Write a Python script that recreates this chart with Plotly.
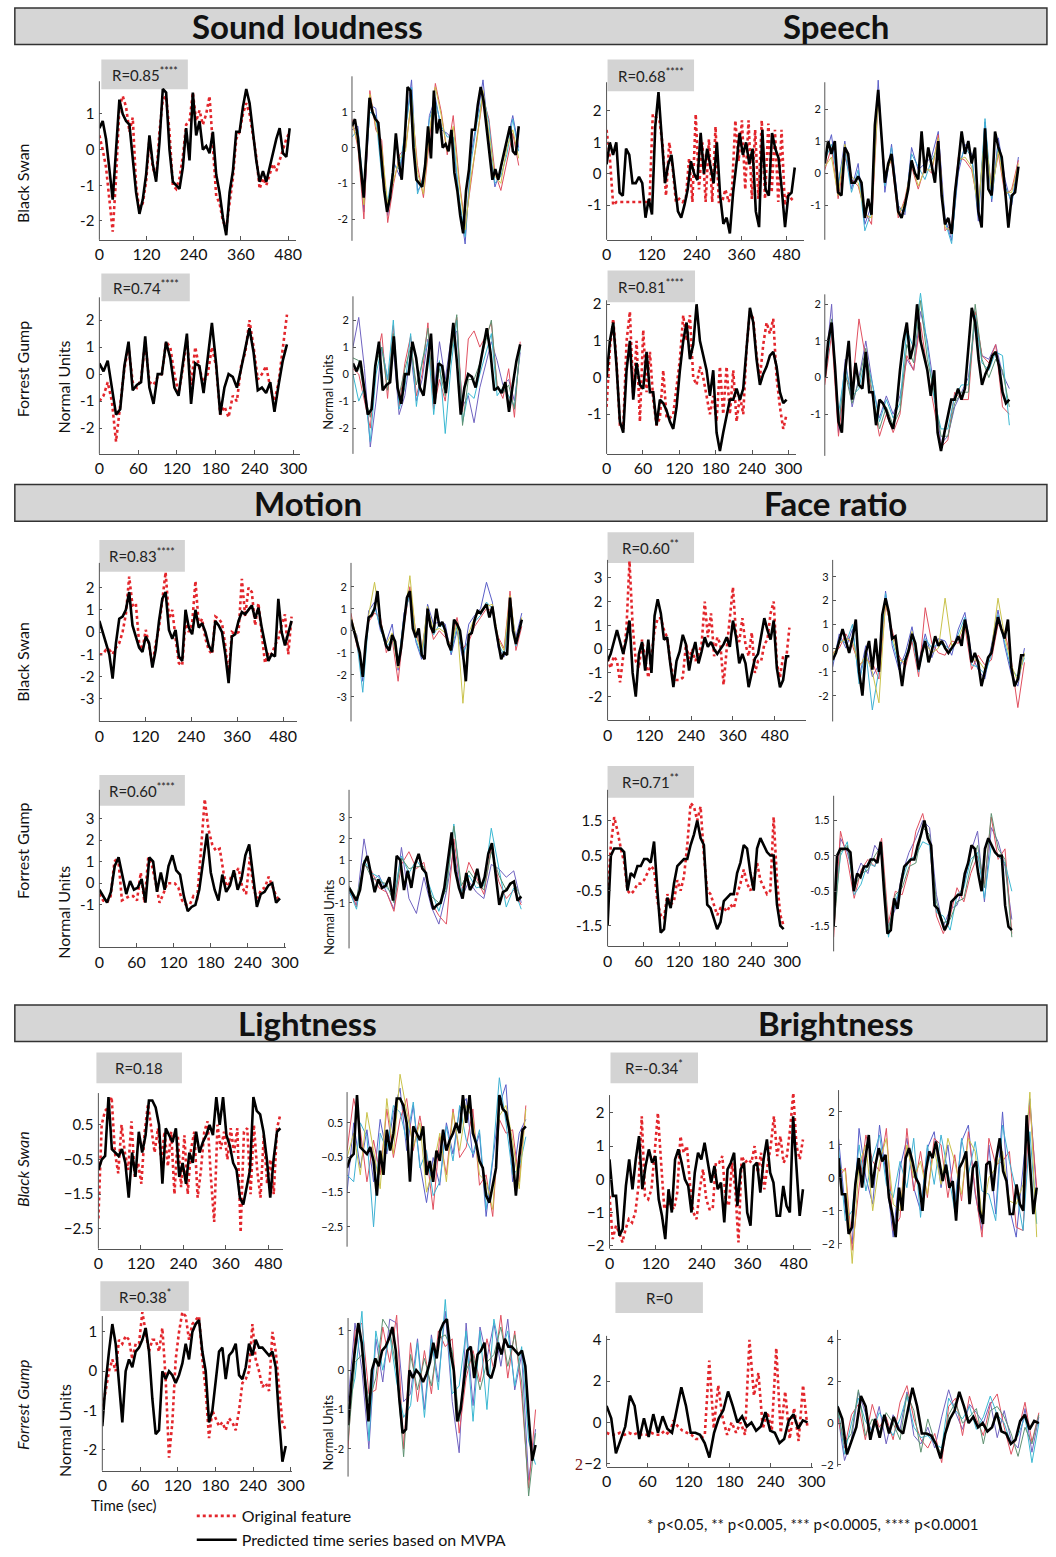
import numpy as np
import plotly.graph_objects as go

W, H = 1056, 1557

# ---------------- DATA ----------------
# durations (s) of each series
dur_bs = {"sound": 484, "speech": 502, "motion": 502, "face": 522, "light": 514, "bright": 504}
dur_fg = {"sound": 290, "speech": 297, "motion": 292, "face": 294, "light": 292, "bright": 294}

r_labels = {
    "sound_bs": "R=0.85<sup>****</sup>", "sound_fg": "R=0.74<sup>****</sup>",
    "speech_bs": "R=0.68<sup>****</sup>", "speech_fg": "R=0.81<sup>****</sup>",
    "motion_bs": "R=0.83<sup>****</sup>", "motion_fg": "R=0.60<sup>****</sup>",
    "face_bs": "R=0.60<sup>**</sup>", "face_fg": "R=0.71<sup>**</sup>",
    "light_bs": "R=0.18", "light_fg": "R=0.38<sup>*</sup>",
    "bright_bs": "R=-0.34<sup>*</sup>", "bright_fg": "R=0",
}

sound_bs_pred = [0.6,0.8,0.3,-0.6,-1.4,0.0,1.4,1.0,0.8,0.7,-0.3,-1.2,-1.8,-1.4,-0.7,0.4,-0.4,-0.9,0.2,1.7,1.6,0.0,-0.9,-1.0,-1.1,-0.5,0.6,-0.3,1.6,0.4,0.8,0.0,0.1,-0.1,0.5,-0.7,-1.2,-1.9,-2.4,-1.2,-0.6,0.5,0.5,1.2,1.7,1.3,0.5,-0.3,-0.9,-0.6,-0.9,-0.5,-0.1,0.3,0.6,-0.1,-0.2,0.6]
sound_bs_orig = [0.4,0.0,-0.5,-1.5,-2.3,-0.8,1.2,1.5,1.2,0.5,0.9,-1.0,-1.7,-1.5,-0.9,0.3,-0.5,-0.8,0.5,1.4,1.5,0.5,-1.0,-1.1,-0.8,-0.2,0.7,0.8,1.6,0.8,1.1,0.7,1.0,1.5,0.0,-1.3,-1.5,-2.0,-2.2,-1.5,-0.8,0.3,0.5,1.0,1.3,1.0,0.4,-0.2,-1.1,-0.8,-1.0,-0.7,-0.4,-0.6,-0.3,0.0,0.3,0.5]
sound_bs_subj = [
    [0.5,0.6,-1.8,1.2,1.1,-0.6,-1.9,-0.4,-0.8,0.6,1.9,-1.2,-1.0,0.9,1.4,0.5,0.4,0.2,-1.5,-2.7,-0.2,0.8,1.9,0.2,-1.1,-0.6,0.2,0.9,0.0],
    [0.8,0.0,-2.0,1.6,0.5,0.2,-2.1,-1.0,-0.2,0.0,1.3,-0.5,-1.4,0.3,1.8,1.0,-0.2,0.9,-0.9,-2.2,-0.9,0.3,1.4,0.8,-0.7,-1.2,-0.4,0.4,-0.5],
    [0.3,0.5,-1.2,1.0,0.9,-0.8,-1.5,-0.5,-0.6,0.5,1.7,-1.3,-0.8,0.8,1.3,0.6,0.3,0.3,-1.4,-2.5,-0.4,0.7,1.5,0.7,-1.0,-0.8,-0.2,0.8,-0.1],
    [0.7,0.1,-1.6,1.5,0.6,0.0,-1.6,-0.9,-0.3,-0.1,1.4,-0.7,-1.3,0.4,1.7,0.9,-0.1,0.6,-1.0,-2.3,-0.8,0.2,1.6,0.4,-0.8,-1.0,0.0,0.5,-0.3],
]

sound_fg_pred = [0.4,0.1,0.5,-0.6,-1.5,-1.3,0.3,1.2,-0.6,-0.4,-0.3,1.4,-0.5,-1.1,0.0,0.0,1.2,0.6,-0.5,-0.8,0.3,1.5,-1.1,0.4,0.3,-0.7,0.6,1.9,0.4,-1.5,-0.5,0.0,-0.1,-0.5,0.2,1.0,1.7,0.8,-0.6,-0.5,-0.7,-0.3,-1.4,-0.4,0.5,1.1]
sound_fg_orig = [-1.0,-0.8,-0.3,-1.0,-2.5,-1.2,0.2,1.0,-0.3,-0.5,-0.2,1.2,-0.3,-0.4,-0.1,0.0,1.2,1.0,0.0,-0.7,0.2,1.3,-0.4,1.0,0.2,-0.3,0.0,1.0,0.3,-1.5,-1.2,-1.6,-0.8,-1.0,0.3,0.8,2.0,1.0,-0.2,0.0,0.3,-0.5,-1.0,-0.3,1.0,2.2]
sound_fg_subj = [
    [1.0,2.1,0.2,-2.7,-1.0,1.0,-0.2,1.0,-1.5,-0.8,0.8,-1.0,-0.2,1.3,-0.8,1.2,-0.2,1.3,1.6,-1.2,-0.8,-1.8,-0.5,0.3,1.2,0.5,-0.4,-0.2,-1.0,0.8],
    [0.2,0.0,-1.0,-2.0,0.5,1.5,-0.9,1.8,-1.2,0.4,1.4,-0.8,0.0,1.9,-1.3,-0.2,-1.0,1.0,2.1,-1.4,1.3,1.6,1.0,1.4,1.9,-0.4,-0.9,0.2,-1.6,1.2],
    [0.0,-1.0,-0.5,-2.5,0.0,1.0,-0.2,2.0,-1.3,-0.5,1.5,-1.2,0.5,1.2,-1.5,0.5,-2.2,0.3,2.0,-1.8,-0.7,-0.9,0.0,0.8,1.5,-0.8,-0.5,-0.8,-1.2,1.0],
    [0.6,0.5,-0.8,-1.6,0.4,1.0,-0.6,1.5,-0.8,0.2,1.0,-0.4,0.4,1.7,-0.9,0.2,-0.8,0.8,2.2,-1.9,-0.2,-0.2,0.4,1.2,2.0,-0.5,-0.7,-0.4,-1.3,1.0],
]

speech_bs_pred = [0.3,1.0,0.6,1.0,-0.6,-0.7,0.8,0.6,-0.3,-0.3,-0.1,-0.3,-1.4,-0.8,-1.3,1.5,2.6,1.2,-0.3,0.3,0.6,-0.3,-1.2,-1.4,-1.0,-0.5,0.4,0.0,-0.2,1.3,0.0,0.8,0.2,-0.3,1.0,-0.7,-1.6,-1.4,-1.9,-0.6,0.3,1.3,0.6,1.0,0.3,0.8,-1.2,-1.7,1.4,-0.5,-0.7,1.3,0.8,0.5,-0.5,-1.7,-0.7,-0.6,0.2]
speech_bs_orig = [1.4,0.5,-1.0,-0.9,-0.9,-0.9,-0.9,-0.9,-0.9,-0.9,-0.9,-0.9,-0.9,-0.9,1.9,1.8,1.7,0.9,-0.7,1.0,0.2,-0.9,-0.8,-0.9,-0.8,0.5,-0.9,1.9,-0.5,1.0,-0.9,1.1,-0.9,1.5,-0.9,-0.9,-0.5,-0.9,-0.5,1.7,0.4,1.7,-0.5,1.7,-0.8,1.4,-0.8,1.7,-0.8,1.6,-0.6,1.4,-0.9,1.4,-1.0,-0.6,-0.8,-0.9]
speech_bs_subj = [
    [0.5,1.2,-0.4,1.0,-0.5,0.3,-1.6,-1.0,2.9,-0.6,0.9,-1.0,-1.3,0.8,0.1,0.3,0.5,1.3,-1.4,-2.1,0.0,0.9,0.6,-1.5,1.6,-0.9,1.1,-0.2,-1.0,0.5],
    [0.1,0.8,-0.8,0.5,-0.2,-0.4,-1.2,-1.6,2.3,0.0,0.4,-1.4,-0.8,0.2,-0.5,0.2,0.0,1.2,-1.8,-1.6,0.5,0.4,0.1,-1.0,1.2,-0.5,0.6,-0.7,-0.5,0.4],
    [0.4,0.9,-0.3,0.7,-0.6,0.1,-1.8,-1.2,2.5,-0.4,0.8,-1.1,-1.2,0.6,0.2,-0.2,0.4,0.8,-1.5,-2.2,0.2,0.8,0.5,-1.3,1.7,-0.8,0.9,-0.4,-0.9,0.1],
    [0.2,0.5,-0.7,0.9,-0.1,-0.3,-1.3,-1.4,2.4,-0.2,0.5,-1.3,-0.9,0.3,-0.4,0.1,0.1,1.1,-1.7,-1.8,0.4,0.5,0.2,-1.1,1.3,-0.6,0.7,-0.6,-0.6,0.3],
]

speech_fg_pred = [0.0,1.0,1.5,0.3,-1.2,-1.5,0.2,1.0,-0.6,0.4,-0.2,-0.3,0.7,-0.4,-0.4,-1.3,-0.6,-0.7,-0.9,-1.2,-1.4,-0.8,0.2,1.0,1.5,0.5,0.9,2.0,1.0,0.6,0.2,-0.5,0.2,-1.5,-2.0,-1.5,-1.0,-0.6,-0.6,-0.3,-0.6,-0.3,0.8,1.9,1.5,0.5,-0.2,0.1,0.3,0.6,0.7,0.3,-0.4,-0.7,-0.6]
speech_fg_orig = [-0.8,0.8,1.6,0.4,-1.3,-1.4,1.0,1.8,-0.5,1.0,-1.2,1.3,-0.4,0.7,-0.6,-1.3,-1.1,0.2,-1.1,-1.1,-1.0,-0.3,0.5,1.7,1.0,1.7,0.0,-0.2,0.3,0.0,-0.5,-1.0,-0.5,-1.2,0.3,-1.0,0.3,-1.0,0.2,-1.2,-0.5,-1.0,0.8,1.8,1.6,0.6,0.0,0.9,1.5,1.2,1.6,0.0,-0.8,-1.4,-1.0]
speech_fg_subj = [
    [0.1,2.0,-1.5,0.5,-0.8,0.0,1.0,-0.2,-1.1,-0.5,-1.0,-0.5,0.5,0.2,1.8,1.0,-0.3,-1.8,-1.6,-0.8,-0.4,0.0,1.6,0.6,0.5,0.9,0.1,-0.3],
    [-0.2,1.2,-1.6,0.0,-0.3,1.6,0.5,-0.6,-1.6,-1.0,-1.5,-1.0,0.6,0.2,1.5,0.2,-0.8,-1.9,-1.7,-0.4,-0.6,-0.6,1.8,0.6,0.4,0.9,-0.8,-1.0],
    [0.0,1.4,-1.0,0.3,-0.5,-0.3,0.6,-0.2,-1.2,-0.6,-1.1,-0.7,1.3,0.8,2.3,0.8,-0.6,-1.4,-1.4,-0.5,-0.2,-0.2,1.7,0.4,0.2,0.7,0.6,-1.3],
    [0.2,1.6,-1.3,0.1,-0.7,-0.1,0.8,-0.5,-1.4,-0.8,-1.3,-0.9,0.9,0.4,2.1,0.5,-0.4,-1.6,-1.6,-0.7,-0.4,-0.4,2.0,0.5,0.0,0.5,0.2,-0.8],
]

motion_bs_pred = [0.5,0.0,-0.4,-1.0,-2.1,-0.5,0.6,0.7,1.0,1.8,0.3,-0.2,-0.7,-0.9,-0.2,-0.5,-1.6,-0.8,0.5,1.5,1.8,0.1,-0.3,0.1,-1.1,-1.3,1.0,0.2,-0.1,1.0,0.2,0.4,0.0,-0.6,-0.9,0.5,0.3,0.0,-1.0,-2.3,-0.2,-0.1,0.5,0.9,0.8,1.0,1.2,0.6,1.1,0.2,-0.5,-1.3,-1.0,-1.1,1.5,0.0,-0.6,0.0,0.5]
motion_bs_orig = [-1.0,-1.0,-0.8,-0.8,-1.0,-0.7,-0.5,0.0,0.8,2.5,1.2,1.3,-0.5,-0.8,0.1,-0.6,-1.5,-0.5,0.2,1.5,2.7,0.6,1.0,-0.3,-1.4,-1.5,0.5,0.0,0.4,2.3,0.3,0.6,-0.3,-0.8,-1.0,0.7,0.6,0.4,-0.6,-2.0,0.0,-0.1,0.0,2.4,0.7,2.0,1.8,0.3,1.3,-0.1,-1.4,-0.9,-1.0,-0.6,-0.3,0.3,0.8,-1.0,0.7]
motion_bs_subj = [
    [0.3,-0.2,-2.3,0.9,1.3,0.0,-0.5,0.3,-1.8,0.8,1.6,-0.5,-1.3,1.2,0.3,0.4,0.3,-1.1,0.0,-1.3,0.3,0.7,1.0,2.2,1.3,-0.8,-1.2,1.2,-0.3,0.8],
    [0.8,-0.7,-1.8,0.4,0.8,0.6,-1.0,-0.4,-2.3,0.2,2.0,-0.1,-0.9,0.8,-0.4,0.0,-0.3,-0.6,0.6,-0.8,-0.5,0.2,0.6,1.0,0.9,-0.3,-0.8,1.8,-0.9,0.2],
    [0.4,-0.5,-2.8,0.5,1.1,0.2,-0.8,-0.3,-1.5,0.6,1.7,-0.4,-1.2,0.9,-0.2,0.3,0.1,-1.0,0.2,-1.1,-0.3,0.4,0.7,1.3,1.0,-0.6,-1.1,1.4,-0.7,0.4],
    [0.6,-0.3,-2.0,0.7,2.2,0.4,-0.6,-0.1,-1.7,0.4,2.5,-0.2,-1.0,1.1,0.0,0.1,-0.1,-0.8,0.4,-3.3,-0.1,0.6,0.9,1.1,1.2,-0.4,-0.9,1.6,-0.5,0.6],
]

motion_fg_pred = [-0.3,-0.6,-0.9,-0.4,0.8,1.2,0.3,-0.5,0.1,-0.3,-0.2,0.2,-0.9,1.2,1.0,-0.4,0.5,-0.3,0.8,1.3,0.6,0.4,-0.6,-1.3,-1.1,-1.0,-0.3,1.0,2.3,0.5,-0.3,-0.8,0.4,-0.4,-0.1,0.6,-0.3,0.2,1.3,1.8,0.4,-1.1,-0.5,-0.4,-0.1,0.0,-0.9,-0.7]
motion_fg_orig = [-0.5,-0.8,-0.9,-0.6,1.0,1.2,-0.8,-0.7,-0.6,-0.6,-0.8,0.5,-0.9,1.2,0.8,0.0,-0.9,-0.5,0.0,0.0,0.0,-0.2,-0.8,-1.0,-1.0,-0.6,-0.7,1.5,3.9,2.5,1.8,1.5,1.6,0.5,-0.3,0.3,0.4,0.7,-0.2,-0.5,1.2,-0.3,-0.7,-0.3,-0.2,0.3,-0.2,-0.6,-0.8]
motion_fg_subj = [
    [-0.5,-1.1,2.0,0.0,0.3,-0.5,-1.3,1.6,-0.8,-1.5,0.2,-1.2,-2.0,-0.5,1.5,-0.8,0.0,-0.5,-0.8,0.8,0.6,0.2,0.5,-1.0],
    [-0.2,-1.2,0.8,0.5,-0.3,-0.5,-1.4,0.8,1.4,0.6,0.9,-1.0,-1.6,-2.0,2.0,-0.5,0.9,0.2,-0.6,1.6,0.0,-0.8,-0.4,-1.1],
    [-0.4,-1.3,1.0,0.4,0.2,-0.3,-0.6,1.2,0.4,1.0,0.5,-0.5,-1.4,-0.2,2.7,-0.5,0.3,-0.3,-0.2,2.5,0.7,-1.2,-0.3,-1.3],
    [-0.2,-0.8,0.9,0.2,0.0,-0.1,-1.0,1.1,0.6,0.7,0.7,-0.7,-1.0,-0.4,2.6,-0.2,0.5,0.0,-0.4,1.4,0.3,-0.4,0.0,-0.8],
]

face_bs_pred = [-0.5,-0.2,0.3,0.8,0.3,-0.2,0.4,1.2,-1.0,-2.0,-0.2,0.3,-0.9,0.4,-1.0,1.4,2.1,1.5,0.4,0.5,-0.6,-1.6,-0.5,-0.1,0.6,0.2,-0.9,-0.2,0.3,-0.6,-0.1,0.5,0.1,0.3,0.0,-0.2,0.0,0.2,0.5,0.1,1.2,0.5,-0.6,-0.2,-0.6,-1.6,-1.0,-0.4,-0.2,0.5,1.3,0.8,0.4,1.2,-0.8,-1.6,-1.3,-0.3,-0.3]
face_bs_orig = [-0.4,-0.8,-0.3,-0.5,-1.4,-0.2,0.8,3.7,1.0,-0.5,-0.8,0.4,-0.5,-1.2,-0.3,0.8,1.3,1.3,0.8,0.5,-0.5,-1.2,-1.3,-1.3,-1.2,0.2,-0.4,0.0,-0.5,-0.2,0.2,2.0,0.5,1.5,-0.3,0.5,0.2,-1.5,0.0,1.2,2.6,0.6,0.3,1.3,0.2,-0.3,0.7,-1.0,-0.5,-0.5,0.2,0.4,1.5,2.0,-0.6,-1.2,-0.3,-0.4,0.9]
face_bs_subj = [
    [-0.8,0.6,0.0,0.8,-1.3,0.1,-1.2,-0.7,2.4,0.1,-0.9,-0.2,0.9,-0.6,0.6,-0.4,0.4,0.3,-0.3,0.8,1.5,-0.3,-0.9,-1.3,0.1,1.6,0.1,-1.1,-1.6,0.0],
    [-0.2,0.0,0.6,0.1,-0.7,-0.5,-0.6,-1.3,1.8,0.7,-0.3,-0.8,0.3,-1.2,1.7,0.2,-0.2,-0.3,0.3,0.2,0.9,-0.9,-0.3,-0.7,-0.5,1.0,0.7,-0.5,-2.5,-0.6],
    [-0.6,0.4,0.2,1.0,-1.5,-0.1,-2.6,-0.9,2.3,0.3,-0.7,-0.4,0.5,-1.0,0.4,0.0,0.2,0.1,-0.1,0.6,1.3,-0.7,-0.8,-1.1,-0.3,1.4,0.3,-0.9,-1.2,-0.4],
    [-0.3,0.2,0.4,0.3,-0.8,-0.3,-1.0,-2.3,2.0,0.5,-0.5,-0.6,0.7,-0.8,0.2,-0.2,0.0,2.1,0.1,0.4,1.1,-0.5,-0.5,-0.9,-0.1,2.1,0.5,-0.7,-1.4,-0.2],
]

face_fg_pred = [-1.5,0.5,0.7,0.7,0.7,0.6,-0.5,0.0,-0.1,0.2,0.2,0.4,0.4,0.3,0.9,-0.5,-1.7,-1.6,-0.7,-1.0,-0.3,0.2,0.3,0.4,0.4,0.8,1.1,1.5,1.0,0.8,-0.9,-1.0,-1.3,-1.6,-1.4,-0.8,-0.7,-0.6,-0.6,0.0,0.3,0.8,0.7,0.0,-0.5,0.7,1.0,0.8,0.6,0.5,0.5,-0.9,-1.5,-1.6]
face_fg_orig = [-0.7,0.8,1.6,1.2,0.7,0.3,-0.5,-0.6,-0.5,-0.3,-0.3,-0.2,0.0,0.2,0.1,-0.8,-1.2,-1.3,-0.6,-0.9,-0.8,-0.2,-0.5,-0.1,0.8,2.0,1.9,1.5,1.9,0.5,-0.5,-0.6,-0.9,-1.2,-1.0,-1.0,-1.1,-0.9,-1.0,-0.6,-0.3,0.1,-0.3,-0.5,-0.2,0.3,-0.2,-0.4,-0.6,-0.5,1.6,-0.2,-1.2,-1.5]
face_fg_subj = [
    [-1.2,1.0,0.6,-0.2,0.3,0.0,0.8,0.5,-1.5,-1.0,0.0,0.6,1.0,1.5,1.3,-0.6,-1.5,-1.0,-0.9,-0.3,0.6,1.2,-0.8,1.3,0.9,0.2,-1.3],
    [-1.8,1.2,0.4,-0.7,0.1,0.4,0.2,1.0,-1.4,-0.5,-0.6,0.1,1.2,1.7,0.8,-1.2,-1.7,-1.2,-0.4,-0.8,0.0,0.5,-0.3,1.6,0.4,0.7,-1.7],
    [-1.3,0.5,0.9,-0.6,-0.3,0.3,0.2,0.7,-1.8,-0.8,-0.2,0.4,0.5,0.9,0.8,-1.1,-1.2,-1.6,-0.6,-0.4,0.4,0.6,-0.7,0.8,0.5,0.3,-0.5],
    [-1.6,0.6,0.8,-0.4,0.0,0.1,0.5,0.8,-1.6,-0.6,-0.4,0.2,0.3,1.3,1.1,-0.8,-1.4,-1.3,-0.8,-0.7,0.2,0.8,-0.4,1.7,0.7,0.4,-1.8],
]

light_bs_pred = [-0.8,-0.5,-0.4,1.3,-0.2,-0.3,-0.4,-0.2,-0.6,-1.6,-0.3,-1.0,0.3,-0.3,0.2,1.2,1.2,1.0,0.5,-1.2,0.4,0.2,0.0,0.4,-1.0,-0.6,-1.2,-0.3,-0.6,0.3,-0.3,0.0,0.2,0.5,0.2,1.3,0.5,1.3,0.2,-0.1,-0.6,-0.8,-1.6,-1.8,-1.3,-0.8,1.3,0.9,0.8,0.3,-0.5,-1.6,-0.5,0.3,0.4]
light_bs_orig = [-2.2,0.5,0.9,1.0,1.3,-0.3,-0.9,0.5,-0.3,-0.8,0.6,-1.0,-0.6,-1.2,0.3,1.1,0.4,-0.3,0.4,-0.5,0.3,-0.7,0.3,-1.5,0.2,-1.3,0.2,-1.5,-0.2,0.3,-1.6,-0.8,0.3,0.6,-1.0,-2.3,0.5,-0.2,0.3,-0.5,0.4,-0.3,0.4,-2.6,0.3,0.4,-1.5,0.5,-0.8,-1.6,0.2,-1.2,-0.5,-1.5,0.4,0.8]
light_bs_subj = [
    [-1.5,0.5,-0.8,0.3,-1.2,0.6,-0.4,0.8,1.5,-0.3,1.0,-0.7,-1.8,-0.5,-1.3,0.5,-0.4,0.9,1.2,-0.5,0.2,-2.2,-0.6,1.0,1.6,-1.2,0.2,0.6],
    [-0.3,1.2,0.3,-1.2,0.0,-1.0,0.9,-0.5,0.6,1.2,-0.3,0.7,-0.4,-2.0,0.1,-1.0,0.9,-0.5,-0.2,0.9,-1.3,-1.0,-2.2,0.6,0.2,0.3,-1.2,1.0],
    [-1.0,-1.2,0.5,0.1,-2.5,0.2,-0.3,1.0,0.8,0.0,1.1,-0.8,-0.3,-1.6,-1.2,0.4,-0.6,1.0,0.0,-0.4,0.3,-2.0,-0.5,1.8,0.5,-1.0,-0.8,0.1],
    [-0.5,0.2,-1.0,0.8,-0.3,-1.4,1.2,-0.4,1.9,0.8,-0.2,0.5,-1.5,-0.8,0.2,-1.2,0.8,-0.3,1.0,0.6,-1.0,-1.2,-2.0,0.7,1.0,0.0,-1.4,0.9],
]

bright_bs_pred = [0.6,-0.5,-0.5,-1.7,-1.5,-0.2,0.6,-0.3,0.6,1.3,-0.3,0.4,0.9,0.5,0.7,-0.6,-1.1,-1.8,-0.3,-1.0,0.6,0.9,0.5,0.0,-0.2,-1.0,0.2,0.8,0.6,1.1,0.5,-0.1,0.4,-0.3,-0.1,-1.3,0.3,0.5,0.8,-0.8,0.3,0.5,-1.0,-1.4,0.4,0.5,-0.4,0.6,1.2,0.2,-0.1,-1.1,-1.1,-0.2,-0.8,-1.0,1.9,0.5,-1.1,-0.3]
bright_bs_orig = [-0.5,-1.8,-1.4,-1.6,-1.9,-1.5,-1.2,-1.3,-1.0,-0.2,1.9,-0.5,-0.6,-0.3,0.8,2.0,0.5,-0.9,-0.7,-0.8,-0.9,-0.4,1.3,0.8,1.0,-0.2,-1.0,-1.2,-0.3,0.3,-0.6,-0.9,-0.9,0.5,0.5,0.7,-0.6,-0.8,0.5,-0.3,-1.9,0.7,0.5,0.6,0.5,1.0,0.2,0.8,-0.3,0.4,1.0,1.9,0.7,1.3,0.5,0.7,1.5,2.6,1.0,0.6,1.2]
bright_bs_subj = [
    [1.2,-1.0,-2.0,1.5,0.0,-0.8,1.6,0.0,-1.8,0.3,1.2,-0.3,-1.0,0.9,1.4,-0.3,1.0,-0.8,1.1,1.6,-0.5,-1.6,1.0,-1.1,2.0,-0.9,-1.8,0.2,2.4,-0.5],
    [0.0,0.3,-2.2,-0.3,1.3,0.5,0.2,1.5,-1.6,-1.2,1.5,-0.4,0.8,-0.6,1.2,1.0,-0.6,0.7,-0.7,1.4,-0.4,-1.8,1.2,0.4,0.5,0.8,-1.5,-1.6,2.2,-0.3],
    [0.9,-1.3,-1.0,1.0,-0.4,0.6,1.3,-0.2,-0.6,0.5,-0.3,1.2,-1.2,1.0,-0.2,1.3,0.2,-1.0,1.2,0.1,1.1,-0.4,-0.5,-1.3,1.6,0.5,-0.4,-1.6,1.4,-1.4],
    [0.3,0.2,-2.6,0.4,1.0,-1.0,0.5,1.2,-0.8,-1.0,1.0,0.0,0.5,-0.5,0.9,-0.2,1.2,0.5,-0.5,1.2,0.8,-1.2,0.0,0.3,0.8,-0.7,-0.8,-0.2,2.6,-1.8],
]

light_fg_pred = [-1.4,-0.3,0.5,1.2,0.7,-0.3,-1.3,0.0,0.3,0.1,0.5,0.6,0.8,1.1,0.5,-0.7,-1.6,-1.5,0.0,-0.2,0.0,-0.1,-0.3,-0.1,0.2,0.7,0.3,1.0,1.2,1.3,0.5,0.0,-1.3,-1.0,-0.3,0.5,0.6,-0.2,0.4,0.5,0.7,-0.1,-0.2,0.1,0.7,0.4,0.8,0.6,0.6,0.5,0.4,0.5,0.1,-1.2,-2.3,-1.9]
light_fg_orig = [-0.9,-0.5,0.0,0.3,0.0,0.8,0.7,0.9,0.8,0.3,0.7,0.7,1.5,1.0,0.5,0.8,0.8,0.5,1.1,-0.2,-2.2,-1.3,0.3,1.0,1.5,1.4,0.8,1.2,1.3,1.4,0.3,-0.5,-1.7,-1.0,-1.2,-1.4,-1.3,-1.5,-1.2,-1.3,-1.5,-1.0,-0.3,-0.2,0.0,1.2,0.3,0.0,-0.4,-0.3,-0.5,1.0,0.5,-0.5,-1.3,-1.5]
light_fg_subj = [
    [-0.8,1.2,0.0,-2.0,0.8,-0.3,1.3,1.2,-0.8,-0.6,0.8,-1.0,0.9,-0.3,1.5,-0.8,-2.1,1.2,-0.9,1.1,0.3,1.2,0.1,1.3,-0.5,0.4,-2.8,-1.5],
    [-2.0,1.0,1.2,-0.6,-0.5,1.1,0.2,1.4,-2.0,0.7,-0.8,0.5,-0.6,1.0,0.6,0.8,-1.6,-0.2,0.5,-0.3,0.8,0.0,1.4,-0.2,1.0,-0.6,-3.0,-1.0],
    [-1.0,-0.2,1.5,-1.8,1.0,0.0,0.9,-0.3,-1.2,-0.9,0.7,-1.2,0.8,-0.5,1.8,-0.6,-0.4,1.0,-1.3,1.0,-1.0,1.3,0.4,1.0,-0.4,0.6,-1.8,-2.4],
    [-1.8,0.2,0.4,-0.8,-0.2,1.3,1.0,0.0,-2.2,0.4,-0.5,0.3,-0.4,0.8,0.9,0.5,-1.3,0.0,0.4,-0.5,0.2,0.4,1.1,0.1,0.9,-0.3,-3.2,-1.6],
]

bright_fg_pred = [0.8,0.2,-1.5,-0.8,-0.2,1.3,0.8,-0.8,0.2,-0.7,0.4,-0.5,0.3,-0.3,-0.5,0.6,1.7,0.8,-0.5,-0.5,-0.6,-1.0,-1.7,-0.5,0.2,0.6,1.5,0.8,0.0,0.3,-0.2,0.0,-0.4,-0.2,0.5,-0.4,-0.5,-1.0,-0.8,0.1,0.4,-0.3,0.1,0.0]
bright_fg_orig = [-0.5,-0.6,-0.6,-0.5,-0.6,-0.5,-0.6,-0.5,-0.6,-0.6,-0.5,-0.6,-0.6,-0.4,-0.6,0.1,-0.2,-0.4,-0.5,-0.6,-0.8,-0.8,-0.6,3.0,-0.3,1.8,0.2,-0.6,0.0,-0.5,0.0,-0.6,4.0,1.3,2.4,-0.3,0.5,-0.4,3.6,-0.5,1.5,-0.8,0.7,-0.9,1.8,-0.3]
bright_fg_subj = [
    [0.5,-1.8,-0.8,1.5,0.5,-0.5,0.8,-1.0,0.4,-0.3,1.5,-0.6,-1.0,-0.2,-1.2,0.3,1.6,0.5,-0.3,0.9,0.5,0.0,1.0,-0.7,0.6,-0.8,-1.2,0.7,-1.4,0.3],
    [0.3,-1.2,0.4,0.9,-0.8,0.9,-0.2,0.3,-0.8,1.0,1.8,0.2,-0.8,-1.2,-0.5,-1.9,0.8,1.2,-0.6,1.3,0.2,-0.6,0.9,1.4,-0.2,-1.5,-0.4,1.0,-0.9,0.5],
    [0.9,-1.5,0.0,1.2,0.1,-0.4,0.5,0.0,-0.6,0.2,1.3,-0.2,-0.7,-0.6,-1.0,-1.2,1.2,0.6,0.2,0.8,-0.3,0.3,1.3,0.4,0.0,-1.0,-0.6,0.3,-1.9,0.0],
    [0.6,-1.0,-0.5,1.6,-0.6,0.2,-0.5,0.5,0.0,-0.8,1.4,0.6,-1.4,0.2,-0.9,-1.5,0.4,1.0,0.0,0.3,0.7,-1.0,0.6,0.8,0.3,-0.5,-1.6,-0.2,-1.0,0.4],
]

xticks_bs = [0, 120, 240, 360, 480]
xticks_fg = [0, 60, 120, 180, 240, 300]

# ---------------- STYLE / LAYOUT ----------------
FONT = "Lato"
RED = "#e3262c"
SUBJ_BS = ["#5a5ec8", "#e04f5f", "#3fb1d3", "#c9c24a"]
SUBJ_FG = ["#6f62c0", "#e05060", "#3ab8d2", "#5f9272"]
PAD = 40

def px_x(p):
    return p / W

def px_y(p):
    return 1 - p / H

fig = go.Figure()
layout = {}
shapes = []
annotations = []
idx = [0]


def yrange_from(cal, top, bot):
    pa, va, pb, vb = cal
    s = (pb - pa) / (va - vb)
    f = lambda p: va + (pa - p) / s
    return [f(bot), f(top)]


def fmt(v, minus):
    s = ("%g" % v)
    return s.replace("-", minus)


def add_panel(geom, series, yticks, xticks=None, minus="-", right=False,
              tickfont=15, legend=False):
    idx[0] += 1
    i = idx[0]
    ax, rx, t_right, top, bot, cal = geom
    dtop = max(top - PAD, 0)
    dbot = min(bot + PAD, H)
    xa = "x%d" % i
    ya = "y%d" % i
    xk = "xaxis" if i == 1 else "xaxis%d" % i
    yk = "yaxis" if i == 1 else "yaxis%d" % i
    for s in series:
        vals, dur, color, width, dash, name = s
        t = np.linspace(0, dur, len(vals))
        fig.add_trace(go.Scatter(
            x=t, y=vals, mode="lines", xaxis=xa, yaxis=ya,
            line=dict(color=color, width=width, dash=dash),
            name=name or "", showlegend=bool(legend and name), hoverinfo="skip"))
    xaxis = dict(domain=[px_x(ax), px_x(rx)], range=[0, t_right],
                 showgrid=False, zeroline=False, fixedrange=True)
    if xticks is None:
        xaxis.update(visible=False, anchor=ya)
    else:
        xaxis.update(anchor="free", position=px_y(bot), showline=True,
                     linecolor="#555", linewidth=1, ticks="inside", ticklen=4,
                     tickcolor="#555", tickvals=xticks,
                     ticktext=[str(v) for v in xticks],
                     tickfont=dict(family=FONT, size=16, color="#111"))
    layout[xk] = xaxis
    layout[yk] = dict(domain=[px_y(dbot), px_y(dtop)],
                      range=yrange_from(cal, dtop, dbot), anchor=xa,
                      showgrid=False, zeroline=False, showline=False,
                      ticks="inside", ticklen=3, tickcolor="#555",
                      ticklabelstandoff=4 if tickfont > 12 else 3,
                      tickvals=yticks, ticktext=[fmt(v, minus) for v in yticks],
                      tickfont=dict(family=FONT, size=tickfont, color="#111"),
                      fixedrange=True)
    shapes.append(dict(type="line", xref="paper", yref="paper",
                       x0=px_x(ax), x1=px_x(ax), y0=px_y(top), y1=px_y(bot),
                       line=dict(color="#555", width=1)))


def left(pred, orig, dur, geom, xticks, yticks, minus="-", legend=False):
    add_panel(geom, [
        (orig, dur, RED, 2.6, "dot", "Original feature"),
        (pred, dur, "#000", 2.6, "solid", "Predicted time series based on MVPA"),
    ], yticks, xticks=xticks, minus=minus, legend=legend)


def right_p(pred, subj, dur, geom, yticks, colors, minus="-"):
    series = [(s, dur, colors[k % len(colors)], 1, "solid", None) for k, s in enumerate(subj)]
    series.append((pred, dur, "#000", 2.6, "solid", None))
    add_panel(geom, series, yticks, minus=minus, tickfont=11)


# ----- Section 1 -----
left(sound_bs_pred, sound_bs_orig, dur_bs["sound"], (96, 296, 500, 82, 242, (115, 1, 223, -2)), xticks_bs, [-2, -1, 0, 1], legend=True)
right_p(sound_bs_pred, sound_bs_subj, dur_bs["sound"], (353, 530, 505, 77, 243, (113, 1, 221, -2)), [-2, -1, 0, 1], SUBJ_BS)
left(speech_bs_pred, speech_bs_orig, dur_bs["speech"], (612, 813, 527, 83, 242, (112, 2, 207, -1)), xticks_bs, [-1, 0, 1, 2])
right_p(speech_bs_pred, speech_bs_subj, dur_bs["speech"], (834, 1040, 525, 83, 242, (110, 2, 207, -1)), [-1, 0, 1, 2], SUBJ_BS)
left(sound_fg_pred, sound_fg_orig, dur_fg["sound"], (96, 300, 310, 300, 458, (323, 2, 432, -2)), xticks_fg, [-2, -1, 0, 1, 2])
right_p(sound_fg_pred, sound_fg_subj, dur_fg["sound"], (354, 530, 300, 299, 458, (323, 2, 432, -2)), [-2, -1, 0, 1, 2], SUBJ_FG)
left(speech_fg_pred, speech_fg_orig, dur_fg["speech"], (612, 805, 313, 303, 458, (307, 2, 418, -1)), xticks_fg, [-1, 0, 1, 2])
right_p(speech_fg_pred, speech_fg_subj, dur_fg["speech"], (834, 1030, 310, 297, 460, (307, 2, 418, -1)), [-1, 0, 1, 2], SUBJ_FG)

# ----- Section 2 -----
left(motion_bs_pred, motion_bs_orig, dur_bs["motion"], (96, 297, 516, 568, 728, (593, 2, 705, -3)), xticks_bs, [-3, -2, -1, 0, 1, 2])
right_p(motion_bs_pred, motion_bs_subj, dur_bs["motion"], (352, 532, 520, 568, 728, (592, 2, 703, -3)), [-3, -2, -1, 0, 1, 2], SUBJ_BS)
left(face_bs_pred, face_bs_orig, dur_bs["face"], (613, 815, 570, 565, 727, (583, 3, 703, -2)), xticks_bs, [-2, -1, 0, 1, 2, 3])
right_p(face_bs_pred, face_bs_subj, dur_bs["face"], (842, 1042, 535, 565, 728, (582, 3, 702, -2)), [-2, -1, 0, 1, 2, 3], SUBJ_BS)
left(motion_fg_pred, motion_fg_orig, dur_fg["motion"], (96, 286, 302, 797, 956, (826, 3, 913, -1)), xticks_fg, [-1, 0, 1, 2, 3])
right_p(motion_fg_pred, motion_fg_subj, dur_fg["motion"], (350, 530, 300, 797, 957, (825, 3, 911, -1)), [-1, 0, 1, 2, 3], SUBJ_FG)
left(face_fg_pred, face_fg_orig, dur_fg["face"], (613, 797, 302, 797, 955, (828, 1.5, 934, -1.5)), xticks_fg, [-1.5, -0.5, 0.5, 1.5])
right_p(face_fg_pred, face_fg_subj, dur_fg["face"], (843, 1028, 300, 803, 960, (828, 1.5, 935, -1.5)), [-1.5, -0.5, 0.5, 1.5], SUBJ_FG)

# ----- Section 3 -----
M = "\u2212"
left(light_bs_pred, light_bs_orig, dur_bs["light"], (95, 283, 522, 1103, 1260, (1135, 0.5, 1240, -2.5)), xticks_bs, [-2.5, -1.5, -0.5, 0.5], minus=M)
right_p(light_bs_pred, light_bs_subj, dur_bs["light"], (348, 532, 520, 1102, 1258, (1133, 0.5, 1238, -2.5)), [-2.5, -1.5, -0.5, 0.5], SUBJ_BS, minus=M)
left(bright_bs_pred, bright_bs_orig, dur_bs["bright"], (615, 820, 525, 1105, 1260, (1123, 2, 1257, -2)), xticks_bs, [-2, -1, 0, 1, 2], minus=M)
right_p(bright_bs_pred, bright_bs_subj, dur_bs["bright"], (848, 1056, 520, 1100, 1260, (1122, 2, 1255, -2)), [-2, -1, 0, 1, 2], SUBJ_BS, minus=M)
left(light_fg_pred, light_fg_orig, dur_fg["light"], (99, 292, 302, 1328, 1484, (1344, 1, 1463, -2)), xticks_fg, [-2, -1, 0, 1])
right_p(light_fg_pred, light_fg_subj, dur_fg["light"], (349, 545, 300, 1330, 1490, (1343, 1, 1462, -2)), [-2, -1, 0, 1], SUBJ_FG)
left(bright_fg_pred, bright_fg_orig, dur_fg["bright"], (612, 822, 302, 1348, 1480, (1352, 4, 1477, -2)), xticks_fg, [-2, 0, 2, 4], minus=M)
right_p(bright_fg_pred, bright_fg_subj, dur_fg["bright"], (847, 1056, 300, 1342, 1480, (1352, 4, 1478, -2)), [-2, 0, 2, 4], SUBJ_FG, minus=M)

# ----- Section header bars -----
headers = [
    (8, 45, "Sound loudness", "Speech"),
    (489, 526, "Motion", "Face ratio"),
    (1014, 1051, "Lightness", "Brightness"),
]
for y0, y1, t1, t2 in headers:
    shapes.append(dict(type="rect", xref="paper", yref="paper", layer="below",
                       x0=px_x(10), x1=px_x(1060), y0=px_y(y1), y1=px_y(y0),
                       fillcolor="#d6d6d6", line=dict(color="#333", width=1.5)))
    for cx, txt in ((308, t1), (845, t2)):
        annotations.append(dict(xref="paper", yref="paper", x=px_x(cx), y=px_y((y0 + y1) / 2),
                                text="<b>%s</b>" % txt, showarrow=False,
                                xanchor="center", yanchor="middle",
                                font=dict(family=FONT, size=33, color="#111")))

# ----- R boxes -----
rboxes = [
    ("sound_bs", 98, 186, 60, 90), ("sound_fg", 98, 188, 276, 304),
    ("speech_bs", 613, 701, 60, 92), ("speech_fg", 613, 702, 273, 305),
    ("motion_bs", 96, 183, 545, 577), ("motion_fg", 96, 183, 782, 813),
    ("face_bs", 613, 701, 537, 568), ("face_fg", 613, 701, 773, 805),
    ("light_bs", 93, 180, 1062, 1093), ("bright_bs", 616, 705, 1062, 1093),
    ("light_fg", 97, 187, 1293, 1323), ("bright_fg", 621, 710, 1294, 1325),
]
for key, x0, x1, y0, y1 in rboxes:
    shapes.append(dict(type="rect", xref="paper", yref="paper", layer="below",
                       x0=px_x(x0), x1=px_x(x1), y0=px_y(y1), y1=px_y(y0),
                       fillcolor="#d3d3d3", line=dict(width=0)))
    annotations.append(dict(xref="paper", yref="paper", x=px_x((x0 + x1) / 2), y=px_y((y0 + y1) / 2),
                            text=r_labels[key], showarrow=False, xanchor="center", yanchor="middle",
                            font=dict(family=FONT, size=15, color="#222")))

# ----- row labels -----
def label(x, y, text, size, italic=False):
    if italic:
        text = "<i>%s</i>" % text
    annotations.append(dict(xref="paper", yref="paper", x=px_x(x), y=px_y(y), text=text,
                            showarrow=False, textangle=-90, xanchor="center", yanchor="middle",
                            font=dict(family=FONT, size=size, color="#111")))

label(18, 185, "Black Swan", 16)
label(18, 372, "Forrest Gump", 16)
label(18, 668, "Black Swan", 16)
label(18, 858, "Forrest Gump", 16)
label(18, 1180, "Black Swan", 16, italic=True)
label(18, 1418, "Forrest Gump", 16, italic=True)
label(60, 390, "Normal Units", 16)
label(329, 395, "Normal Units", 13)
label(60, 920, "Normal Units", 16)
label(329, 925, "Normal Units", 13)
label(60, 1443, "Normal Units", 16)
label(329, 1445, "Normal Units", 13)

annotations.append(dict(xref="paper", yref="paper", x=px_x(85), y=px_y(1519), text="Time (sec)",
                        showarrow=False, xanchor="left", yanchor="middle",
                        font=dict(family=FONT, size=15, color="#111")))
annotations.append(dict(xref="paper", yref="paper", x=px_x(822), y=px_y(1538),
                        text="* p<0.05, ** p<0.005, *** p<0.0005, **** p<0.0001",
                        showarrow=False, xanchor="center", yanchor="middle",
                        font=dict(family=FONT, size=15, color="#111")))
annotations.append(dict(xref="paper", yref="paper", x=px_x(584), y=px_y(1478), text="2",
                        showarrow=False, xanchor="center", yanchor="middle",
                        font=dict(family="Liberation Serif", size=16, color="#7a1414")))

layout.update(dict(
    width=W, height=H, margin=dict(l=0, r=0, t=0, b=0),
    paper_bgcolor="white", plot_bgcolor="rgba(0,0,0,0)",
    shapes=shapes, annotations=annotations,
    showlegend=True,
    legend=dict(x=px_x(190), y=px_y(1513), xanchor="left", yanchor="top",
                bgcolor="rgba(0,0,0,0)", font=dict(family=FONT, size=16, color="#111"),
                tracegroupgap=0, itemwidth=40),
    font=dict(family=FONT),
))
fig.update_layout(**layout)
fig.write_html("out.html")
